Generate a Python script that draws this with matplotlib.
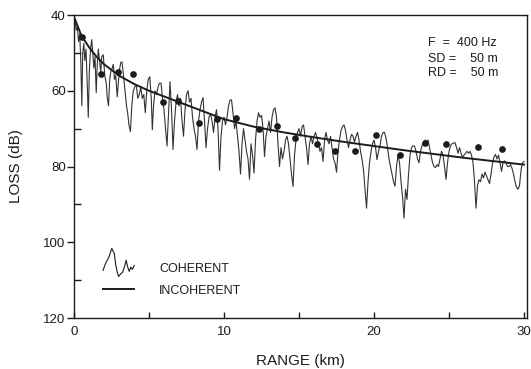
import matplotlib
matplotlib.use("Agg")
import matplotlib.pyplot as plt
import numpy as np
from matplotlib.lines import Line2D
from matplotlib.legend_handler import HandlerBase

plt.rcParams['font.family'] = ['Liberation Sans', 'DejaVu Sans']

INK = "#1c1c1c"

# coherent loss, first few km (irregular sampling)
near_range = [0.00, 0.08, 0.15, 0.22, 0.30, 0.38, 0.45, 0.52, 0.58, 0.65,
              0.72, 0.80, 0.88, 0.95, 1.02, 1.10, 1.18, 1.25, 1.32, 1.40,
              1.48, 1.55, 1.62, 1.70, 1.78, 1.85, 1.95, 2.05, 2.15, 2.22,
              2.30, 2.38, 2.45, 2.55, 2.62, 2.70, 2.78, 2.88, 2.95, 3.05,
              3.12, 3.20, 3.30, 3.40, 3.50, 3.58, 3.66, 3.76, 3.85, 3.95,
              4.05, 4.15, 4.25, 4.35, 4.45, 4.55, 4.65, 4.75, 4.85, 4.95,
              5.05, 5.15, 5.22]
near_loss = [40.5, 42, 44, 43, 47, 45, 52, 64, 50, 47.5,
             52, 49, 58, 67, 55, 49, 46.5, 50, 54, 51,
             60.5, 53, 49, 52, 55, 51, 50.5, 56, 58, 62,
             64, 57, 55, 54, 53, 57, 56, 61.6, 58, 54,
             52.5, 52.4, 56, 60, 64, 66, 69, 70.8, 64, 60,
             59, 58.4, 62, 61, 59, 62, 61, 65.8, 60, 57,
             56.3, 62, 70.3]

# coherent loss from 5.3 km to 30 km, every 0.1 km
far_loss = [64, 60, 61, 59, 58, 58, 62, 65, 70, 74.6,
            66, 57.6, 65, 75.5, 68, 63, 61, 64, 62, 68,
            72, 65, 61, 60, 63, 62, 67, 70, 72, 75.5,
            68, 65, 63, 61.8, 68, 75, 70, 67, 66, 68,
            71, 67, 65, 70, 81, 72, 68, 67, 69, 67,
            64, 62.5, 62.4, 66, 70, 68, 72, 76, 82, 74,
            70, 73, 76, 78, 83.4, 74, 77, 81.7, 73, 68,
            65.8, 67, 66.5, 70, 77.4, 72, 70, 68, 71, 67,
            65, 64.5, 67, 74, 80, 75, 78, 76, 73, 72,
            74, 78, 82, 85.3, 77, 73, 71, 70, 72, 69.5,
            69, 72, 75, 79.5, 74, 72, 74, 72, 71, 72.5,
            74, 76, 75, 78.7, 73, 71, 73, 74, 72, 75,
            78, 79, 81.5, 76, 73, 70.5, 69.5, 69, 70.5, 73,
            75, 73, 71.5, 72, 73.5, 72, 71, 73, 76, 78,
            81, 86, 91, 84, 79, 76, 74, 73, 75, 78.2,
            76, 74.5, 72, 71, 71, 72.5, 75, 78, 80, 82,
            84, 85.2, 80, 77, 79, 84, 88, 93.6, 86, 88.7,
            82, 77, 75, 74.5, 74.6, 76, 78, 79, 76, 74.5,
            73.5, 73, 73.5, 73, 75, 77, 79, 80, 80.3, 79.5,
            80, 78, 76, 77, 80, 83.4, 79, 76, 74.5, 74,
            73.8, 73.7, 75, 76.5, 75, 76.5, 77.5, 77, 76.5, 76,
            76.5, 76, 77, 79, 84, 91, 85, 83.5, 84, 82,
            83, 81.5, 82.5, 83.5, 84.5, 82, 79, 77.5, 76.8, 78,
            77, 79, 81.3, 79, 78.5, 79, 80, 80, 79.5, 80.5,
            82, 84, 85.5, 86, 85, 81, 79, 78.7]
far_range = np.round(5.3 + 0.1 * np.arange(len(far_loss)), 2)

# incoherent (range averaged) loss
incoh_range = [0.0, 0.25, 0.5, 1, 1.5, 2, 3, 4, 5, 6, 7, 8, 9, 10,
               12, 14, 16, 18, 20, 22, 24, 26, 28, 30]
incoh_loss = [40.5, 43, 45.5, 48.5, 51, 53, 56, 58.2, 60, 61.5, 63, 64.5, 66, 67.5,
              69.5, 71, 72.3, 73.5, 74.6, 75.7, 76.7, 77.7, 78.6, 79.5]

# measured points
meas_range = [0.5, 1.8, 2.95, 3.95, 5.9, 6.9, 8.3, 9.5, 10.8, 12.3, 13.5,
              14.7, 16.2, 17.4, 18.7, 20.1, 21.7, 23.4, 24.8, 26.9, 28.5]
meas_loss = [45.8, 55.5, 55, 55.5, 63, 62.6, 68.4, 67.4, 67.3, 70, 69.2,
             72.6, 74, 75.8, 75.8, 71.6, 77, 73.7, 74, 74.8, 75.4]

# little squiggle used as the legend key for the coherent curve (points)
icon_x = [0, 0.08, 0.19, 0.28, 0.36, 0.41, 0.46, 0.5, 0.57, 0.63,
          0.7, 0.74, 0.8, 0.84, 0.89, 0.94, 1.0]
icon_y = [-1.7, 3.2, 8.0, 14.1, 10.5, 1.95, -3.4, -6.1, -4.1, -2.9,
          1.95, 5.6, 0, -2.4, 0.7, -1.0, 1.95]


class SquiggleHandler(HandlerBase):
    def create_artists(self, legend, orig_handle, xdescent, ydescent,
                       width, height, fontsize, trans):
        xs = np.array(icon_x) * width - xdescent
        ys = np.array(icon_y) + height / 2 - ydescent
        line = Line2D(xs, ys, color=INK, lw=0.8)
        line.set_transform(trans)
        return [line]


fig = plt.figure(figsize=(5.31, 3.69), dpi=100)
ax = fig.add_axes([0.1394, 0.1382, 0.8531, 0.8211])

coh_line, = ax.plot(near_range + list(far_range), near_loss + far_loss,
                    color="#333333", lw=0.8)
incoh_line, = ax.plot(incoh_range, incoh_loss, color=INK, lw=1.4)
ax.plot(meas_range, meas_loss, 'o', color=INK, ms=3.8)

ax.set_xlim(0, 30.2)
ax.set_ylim(120, 40)
ax.set_xticks([0, 10, 20, 30])
ax.set_xticks([5, 15, 25], minor=True)
ax.set_yticks([40, 60, 80, 100, 120])
ax.set_yticks([50, 70, 90, 110], minor=True)
ax.tick_params(axis='x', which='both', direction='in', length=4, width=1,
               pad=6, labelsize=9.5, colors=INK)
ax.tick_params(axis='y', which='major', direction='out', length=5, width=1,
               pad=1, labelsize=9.5, colors=INK)
ax.tick_params(axis='y', which='minor', direction='in', length=5, width=1,
               colors=INK)
for s in ax.spines.values():
    s.set_color(INK)
    s.set_linewidth(1.0)

ax.set_xlabel("RANGE (km)", fontsize=11, color=INK, labelpad=11)
ax.set_ylabel("LOSS (dB)", fontsize=11, color=INK, labelpad=15)

for y, txt in zip([0.908, 0.855, 0.809], ["F  =  400 Hz", "SD =    50 m", "RD =    50 m"]):
    ax.text(0.781, y, txt, transform=ax.transAxes, fontsize=9, va='center',
            ha='left', color=INK)

ax.legend([coh_line, incoh_line], ["COHERENT", "INCOHERENT"],
          handler_map={coh_line: SquiggleHandler()},
          frameon=False, loc='lower left', bbox_to_anchor=(0.064, 0.07),
          borderpad=0, borderaxespad=0, handlelength=2.5, handletextpad=2.0,
          labelspacing=0.75, fontsize=9, labelcolor=INK)

fig.savefig("out.png", dpi=100)
